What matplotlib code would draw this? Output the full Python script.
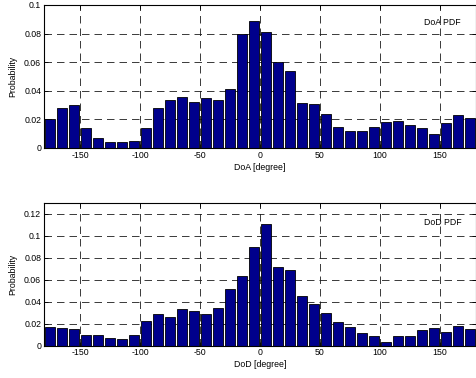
import numpy as np
import matplotlib.pyplot as plt

plt.rcParams['font.family'] = ['Liberation Sans', 'DejaVu Sans']

# bin centres (degree) for both histograms
centers = np.arange(-175, 180, 10)

doa_pdf = [0.0205, 0.028, 0.030, 0.014, 0.007, 0.004, 0.004, 0.005, 0.014, 0.028,
           0.0334, 0.0357, 0.032, 0.0352, 0.0334, 0.0416, 0.0795, 0.0887, 0.081, 0.060,
           0.054, 0.0314, 0.031, 0.0235, 0.015, 0.0116, 0.0116, 0.015, 0.018, 0.0188,
           0.0158, 0.014, 0.010, 0.0177, 0.0228, 0.021]

dod_pdf = [0.0173, 0.0164, 0.0155, 0.0094, 0.010, 0.0067, 0.006, 0.010, 0.0224, 0.029,
           0.026, 0.0333, 0.0318, 0.029, 0.0345, 0.0518, 0.063, 0.0893, 0.111, 0.0715,
           0.0688, 0.045, 0.0379, 0.0297, 0.0212, 0.0173, 0.0112, 0.009, 0.0036, 0.009,
           0.009, 0.0139, 0.016, 0.0121, 0.0179, 0.0155]

xticks = [-150, -100, -50, 0, 50, 100, 150]

fig = plt.figure(figsize=(4.76, 3.78), dpi=100)
ax1 = fig.add_axes([0.0924, 0.6085, 0.9076, 0.3783])
ax2 = fig.add_axes([0.0924, 0.0854, 0.9076, 0.3784])

fs = 6.3
panels = [
    (ax1, doa_pdf, 0.1, [0, 0.02, 0.04, 0.06, 0.08, 0.1], 'DoA [degree]', 'DoA PDF', 0.088),
    (ax2, dod_pdf, 0.13, [0, 0.02, 0.04, 0.06, 0.08, 0.1, 0.12], 'DoD [degree]', 'DoD PDF', 0.112),
]

for ax, vals, ymax, yticks, xlab, name, ty in panels:
    ax.set_axisbelow(True)
    ax.bar(centers, vals, width=8, color='#00008C', edgecolor='black', linewidth=0.6)
    ax.set_xlim(-180, 180)
    ax.set_ylim(0, ymax)
    ax.set_xticks(xticks)
    ax.set_xticklabels([str(t) for t in xticks])
    ax.set_yticks(yticks)
    ax.set_yticklabels(['%g' % t for t in yticks])
    ax.tick_params(direction='in', length=3, width=0.6, labelsize=fs, pad=2,
                   top=True, right=True)
    ax.grid(True, color='0.1', linestyle=(0, (9, 6)), linewidth=0.6)
    for s in ax.spines.values():
        s.set_linewidth(0.8)
    ax.set_xlabel(xlab, fontsize=fs, labelpad=2)
    ax.set_ylabel('Probability', fontsize=fs, labelpad=5)
    ax.text(152, ty, name, fontsize=fs, ha='center', va='center')

fig.savefig('out.png', dpi=100)
